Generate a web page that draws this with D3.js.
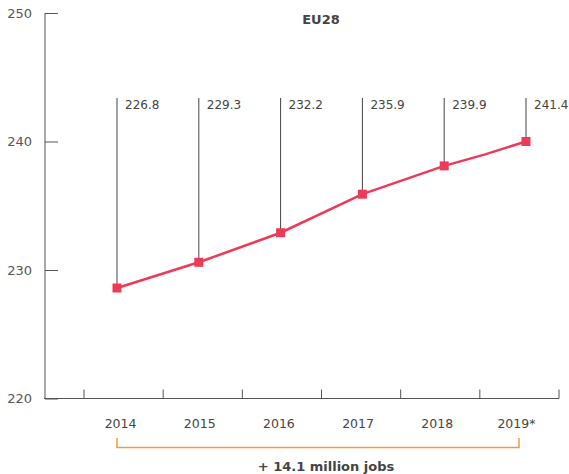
<!DOCTYPE html>
<html>
<head>
<meta charset="utf-8">
<script src="https://cdn.jsdelivr.net/npm/d3@7"></script>
<style>
  body { margin: 0; background: #fff; }
  text { font-family: "DejaVu Sans", sans-serif; }
</style>
</head>
<body>
<script>
// employment, millions (EU28)
var years = [2014, 2015, 2016, 2017, 2018, 2019];
var yearLabels = ["2014", "2015", "2016", "2017", "2018", "2019*"];
var values = [228.6, 230.6, 232.9, 235.9, 238.1, 240.0];
// line passes through an extra (unmarked) point mid 2018-2019
var lineYears = [2014, 2015, 2016, 2017, 2018, 2018.5, 2019];
var lineValues = [228.6, 230.6, 232.9, 235.9, 238.1, 239.0, 240.0];
var valueLabels = ["226.8", "229.3", "232.2", "235.9", "239.9", "241.4"];
var yTicks = [220, 230, 240, 250];
var title = "EU28";
var note = "+ 14.1 million jobs";

var width = 569, height = 474;
var red = "#ee3a59", grey = "#555";

var svg = d3.select("body").append("svg")
  .attr("width", width)
  .attr("height", height);

var y = d3.scaleLinear().domain([220, 250]).range([398.5, 13]);
var x = d3.scaleLinear().domain([2014, 2019]).range([117, 526]);
var xBand = d3.scaleBand().domain(yearLabels).range([84, 559]);

// y axis
var yAxis = d3.axisRight(y).tickValues(yTicks).tickSize(13).tickFormat("");
var gy = svg.append("g").attr("transform", "translate(45,0)").call(yAxis);
gy.select(".domain").remove();
gy.selectAll("line").attr("stroke", grey);
svg.append("line")
  .attr("x1", 45).attr("x2", 45)
  .attr("y1", y(250)).attr("y2", y(220))
  .attr("stroke", grey);

svg.selectAll(".ylab")
  .data(yTicks)
  .enter().append("text")
  .attr("class", "ylab")
  .attr("x", 32)
  .attr("y", function(d) { return y(d); })
  .attr("dy", "0.35em")
  .attr("text-anchor", "end")
  .attr("font-size", 13)
  .attr("fill", grey)
  .text(function(d) { return d; });

// x axis
svg.append("line")
  .attr("x1", 44).attr("x2", 559)
  .attr("y1", y(220)).attr("y2", y(220))
  .attr("stroke", grey);
var bounds = xBand.domain().map(function(d) { return xBand(d); }).concat([xBand.range()[1]]);
svg.selectAll(".xtick")
  .data(bounds)
  .enter().append("line")
  .attr("class", "xtick")
  .attr("x1", function(d) { return d; })
  .attr("x2", function(d) { return d; })
  .attr("y1", y(220) - 9)
  .attr("y2", y(220))
  .attr("stroke", grey);

svg.selectAll(".xlab")
  .data(yearLabels)
  .enter().append("text")
  .attr("class", "xlab")
  .attr("x", function(d) { return xBand(d) + xBand.bandwidth() / 2 - 3; })
  .attr("y", 428)
  .attr("text-anchor", "middle")
  .attr("font-size", 12.5)
  .attr("fill", "#444")
  .text(function(d) { return d; });

// title
svg.append("text")
  .attr("x", 321)
  .attr("y", 24)
  .attr("text-anchor", "middle")
  .attr("font-size", 13)
  .attr("font-weight", "bold")
  .attr("fill", "#444")
  .text(title);

// drop lines + value labels
svg.selectAll(".drop")
  .data(years)
  .enter().append("line")
  .attr("class", "drop")
  .attr("x1", function(d) { return x(d); })
  .attr("x2", function(d) { return x(d); })
  .attr("y1", 98)
  .attr("y2", function(d, i) { return y(values[i]); })
  .attr("stroke", "#444");

svg.selectAll(".vlab")
  .data(valueLabels)
  .enter().append("text")
  .attr("class", "vlab")
  .attr("x", function(d, i) { return x(years[i]) + 8; })
  .attr("y", 109)
  .attr("font-size", 12)
  .attr("fill", "#444")
  .text(function(d) { return d; });

// line
var line = d3.line()
  .x(function(d) { return x(d[0]); })
  .y(function(d) { return y(d[1]); });

svg.append("path")
  .datum(d3.zip(lineYears, lineValues))
  .attr("d", line)
  .attr("fill", "none")
  .attr("stroke", red)
  .attr("stroke-width", 2.5);

svg.selectAll(".pt")
  .data(years)
  .enter().append("rect")
  .attr("class", "pt")
  .attr("x", function(d) { return x(d) - 4.5; })
  .attr("y", function(d, i) { return y(values[i]) - 4.5; })
  .attr("width", 9)
  .attr("height", 9)
  .attr("fill", red);

// bracket
var bx0 = x(2014), bx1 = 519;
svg.append("path")
  .attr("d", "M" + bx0 + ",438V447.5H" + bx1 + "V438")
  .attr("fill", "none")
  .attr("stroke", "#f39a3d")
  .attr("stroke-width", 1.5);

svg.append("text")
  .attr("x", 326)
  .attr("y", 471)
  .attr("text-anchor", "middle")
  .attr("font-size", 13)
  .attr("font-weight", "bold")
  .attr("fill", "#444")
  .text(note);
</script>
</body>
</html>
